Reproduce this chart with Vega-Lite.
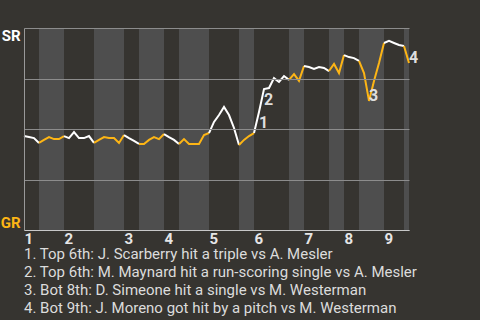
{
  "$schema": "https://vega.github.io/schema/vega-lite/v6.json",
  "width": 385,
  "height": 202,
  "autosize": {"type": "none"},
  "padding": {"left": 24, "top": 28, "right": 71, "bottom": 90},
  "background": "#363430",
  "config": {"view": {"stroke": null}, "font": "Roboto"},
  "title": {
    "text": [
      "1. Top 6th: J. Scarberry hit a triple vs A. Mesler",
      "2. Top 6th: M. Maynard hit a run-scoring single vs A. Mesler",
      "3. Bot 8th: D. Simeone hit a single vs M. Westerman",
      "4. Bot 9th: J. Moreno got hit by a pitch vs M. Westerman"
    ],
    "orient": "bottom",
    "anchor": "start",
    "frame": "group",
    "font": "Roboto",
    "fontSize": 15,
    "fontWeight": "normal",
    "color": "#dcdcdc",
    "lineHeight": 18,
    "offset": 1
  },
  "datasets": {
    "wp": [
      {"h": "1T", "bat": "SR", "k": 0, "wp": 0.465},
      {"h": "1T", "bat": "SR", "k": 1, "wp": 0.46},
      {"h": "1T", "bat": "SR", "k": 2, "wp": 0.455},
      {"h": "1T", "bat": "SR", "k": 3, "wp": 0.431},
      {"h": "1B", "bat": "GR", "k": 3, "wp": 0.431},
      {"h": "1B", "bat": "GR", "k": 4, "wp": 0.446},
      {"h": "1B", "bat": "GR", "k": 5, "wp": 0.46},
      {"h": "1B", "bat": "GR", "k": 6, "wp": 0.45},
      {"h": "1B", "bat": "GR", "k": 7, "wp": 0.45},
      {"h": "1B", "bat": "GR", "k": 8, "wp": 0.465},
      {"h": "2T", "bat": "SR", "k": 8, "wp": 0.465},
      {"h": "2T", "bat": "SR", "k": 9, "wp": 0.455},
      {"h": "2T", "bat": "SR", "k": 10, "wp": 0.485},
      {"h": "2T", "bat": "SR", "k": 11, "wp": 0.455},
      {"h": "2T", "bat": "SR", "k": 12, "wp": 0.455},
      {"h": "2T", "bat": "SR", "k": 13, "wp": 0.465},
      {"h": "2T", "bat": "SR", "k": 14, "wp": 0.431},
      {"h": "2B", "bat": "GR", "k": 14, "wp": 0.431},
      {"h": "2B", "bat": "GR", "k": 15, "wp": 0.446},
      {"h": "2B", "bat": "GR", "k": 16, "wp": 0.46},
      {"h": "2B", "bat": "GR", "k": 17, "wp": 0.455},
      {"h": "2B", "bat": "GR", "k": 18, "wp": 0.455},
      {"h": "2B", "bat": "GR", "k": 19, "wp": 0.431},
      {"h": "2B", "bat": "GR", "k": 20, "wp": 0.47},
      {"h": "3T", "bat": "SR", "k": 20, "wp": 0.47},
      {"h": "3T", "bat": "SR", "k": 21, "wp": 0.455},
      {"h": "3T", "bat": "SR", "k": 22, "wp": 0.441},
      {"h": "3T", "bat": "SR", "k": 23, "wp": 0.426},
      {"h": "3B", "bat": "GR", "k": 23, "wp": 0.426},
      {"h": "3B", "bat": "GR", "k": 24, "wp": 0.426},
      {"h": "3B", "bat": "GR", "k": 25, "wp": 0.446},
      {"h": "3B", "bat": "GR", "k": 26, "wp": 0.46},
      {"h": "3B", "bat": "GR", "k": 27, "wp": 0.45},
      {"h": "3B", "bat": "GR", "k": 28, "wp": 0.475},
      {"h": "4T", "bat": "SR", "k": 28, "wp": 0.475},
      {"h": "4T", "bat": "SR", "k": 29, "wp": 0.46},
      {"h": "4T", "bat": "SR", "k": 30, "wp": 0.446},
      {"h": "4T", "bat": "SR", "k": 31, "wp": 0.426},
      {"h": "4B", "bat": "GR", "k": 31, "wp": 0.426},
      {"h": "4B", "bat": "GR", "k": 32, "wp": 0.45},
      {"h": "4B", "bat": "GR", "k": 33, "wp": 0.426},
      {"h": "4B", "bat": "GR", "k": 34, "wp": 0.426},
      {"h": "4B", "bat": "GR", "k": 35, "wp": 0.426},
      {"h": "4B", "bat": "GR", "k": 36, "wp": 0.47},
      {"h": "4B", "bat": "GR", "k": 37, "wp": 0.48},
      {"h": "5T", "bat": "SR", "k": 37, "wp": 0.48},
      {"h": "5T", "bat": "SR", "k": 38, "wp": 0.535},
      {"h": "5T", "bat": "SR", "k": 39, "wp": 0.569},
      {"h": "5T", "bat": "SR", "k": 40, "wp": 0.609},
      {"h": "5T", "bat": "SR", "k": 41, "wp": 0.569},
      {"h": "5T", "bat": "SR", "k": 42, "wp": 0.505},
      {"h": "5T", "bat": "SR", "k": 43, "wp": 0.421},
      {"h": "5B", "bat": "GR", "k": 43, "wp": 0.421},
      {"h": "5B", "bat": "GR", "k": 44, "wp": 0.446},
      {"h": "5B", "bat": "GR", "k": 45, "wp": 0.465},
      {"h": "5B", "bat": "GR", "k": 46, "wp": 0.48},
      {"h": "6T", "bat": "SR", "k": 46, "wp": 0.48},
      {"h": "6T", "bat": "SR", "k": 47, "wp": 0.584},
      {"h": "6T", "bat": "SR", "k": 48, "wp": 0.698},
      {"h": "6T", "bat": "SR", "k": 49, "wp": 0.703},
      {"h": "6T", "bat": "SR", "k": 50, "wp": 0.752},
      {"h": "6T", "bat": "SR", "k": 51, "wp": 0.733},
      {"h": "6T", "bat": "SR", "k": 52, "wp": 0.762},
      {"h": "6T", "bat": "SR", "k": 53, "wp": 0.743},
      {"h": "6B", "bat": "GR", "k": 53, "wp": 0.743},
      {"h": "6B", "bat": "GR", "k": 54, "wp": 0.772},
      {"h": "6B", "bat": "GR", "k": 55, "wp": 0.738},
      {"h": "6B", "bat": "GR", "k": 56, "wp": 0.812},
      {"h": "7T", "bat": "SR", "k": 56, "wp": 0.812},
      {"h": "7T", "bat": "SR", "k": 57, "wp": 0.807},
      {"h": "7T", "bat": "SR", "k": 58, "wp": 0.797},
      {"h": "7T", "bat": "SR", "k": 59, "wp": 0.807},
      {"h": "7T", "bat": "SR", "k": 60, "wp": 0.802},
      {"h": "7T", "bat": "SR", "k": 61, "wp": 0.787},
      {"h": "7B", "bat": "GR", "k": 61, "wp": 0.787},
      {"h": "7B", "bat": "GR", "k": 62, "wp": 0.822},
      {"h": "7B", "bat": "GR", "k": 63, "wp": 0.777},
      {"h": "7B", "bat": "GR", "k": 64, "wp": 0.866},
      {"h": "8T", "bat": "SR", "k": 64, "wp": 0.866},
      {"h": "8T", "bat": "SR", "k": 65, "wp": 0.856},
      {"h": "8T", "bat": "SR", "k": 66, "wp": 0.851},
      {"h": "8T", "bat": "SR", "k": 67, "wp": 0.837},
      {"h": "8B", "bat": "GR", "k": 67, "wp": 0.837},
      {"h": "8B", "bat": "GR", "k": 68, "wp": 0.777},
      {"h": "8B", "bat": "GR", "k": 69, "wp": 0.639},
      {"h": "8B", "bat": "GR", "k": 70, "wp": 0.738},
      {"h": "8B", "bat": "GR", "k": 71, "wp": 0.827},
      {"h": "8B", "bat": "GR", "k": 72, "wp": 0.926},
      {"h": "9T", "bat": "SR", "k": 72, "wp": 0.926},
      {"h": "9T", "bat": "SR", "k": 73, "wp": 0.936},
      {"h": "9T", "bat": "SR", "k": 74, "wp": 0.926},
      {"h": "9T", "bat": "SR", "k": 75, "wp": 0.916},
      {"h": "9T", "bat": "SR", "k": 76, "wp": 0.911},
      {"h": "9B", "bat": "GR", "k": 76, "wp": 0.911},
      {"h": "9B", "bat": "GR", "k": 77, "wp": 0.827}
    ],
    "events": [
      {"n": "1", "bat": "SR", "k": 47, "wp": 0.584, "desc": "Top 6th: J. Scarberry hit a triple vs A. Mesler"},
      {"n": "2", "bat": "SR", "k": 48, "wp": 0.698, "desc": "Top 6th: M. Maynard hit a run-scoring single vs A. Mesler"},
      {"n": "3", "bat": "GR", "k": 69, "wp": 0.639, "desc": "Bot 8th: D. Simeone hit a single vs M. Westerman"},
      {"n": "4", "bat": "GR", "k": 77, "wp": 0.827, "desc": "Bot 9th: J. Moreno got hit by a pitch vs M. Westerman"}
    ]
  },
  "layer": [
    {
      "data": {"name": "wp"},
      "transform": [
        {"aggregate": [{"op": "min", "field": "k", "as": "k0"}, {"op": "max", "field": "k", "as": "k1"}], "groupby": ["h", "bat"]},
        {"filter": "datum.bat == 'GR'"}
      ],
      "mark": {"type": "rect", "color": "#4e4e4e"},
      "encoding": {
        "x": {
          "field": "k0", "type": "quantitative",
          "scale": {"domain": [0, 77], "nice": false, "zero": false},
          "axis": {
            "values": [0, 8, 20, 28, 37, 46, 56, 64, 72],
            "labelExpr": "'' + (indexof([0, 8, 20, 28, 37, 46, 56, 64, 72], datum.value) + 1)",
            "labelAlign": "left",
            "labelBaseline": "top",
            "labelFlush": false,
            "labelOverlap": false,
            "ticks": false,
            "tickSize": 0,
            "labelPadding": 1,
            "labelFont": "Roboto",
            "labelFontSize": 15,
            "labelFontWeight": "bold",
            "labelColor": "#e6e6e6",
            "domainColor": "#c8c8c8",
            "domainWidth": 1,
            "grid": false,
            "title": null,
            "zindex": 1
          }
        },
        "x2": {"field": "k1"}
      }
    },
    {
      "data": {"name": "wp"},
      "mark": {"type": "line", "strokeWidth": 2, "strokeJoin": "miter"},
      "encoding": {
        "x": {"field": "k", "type": "quantitative"},
        "y": {
          "field": "wp", "type": "quantitative",
          "scale": {"domain": [0, 1], "nice": false, "zero": false},
          "axis": {
            "values": [0, 0.25, 0.5, 0.75, 1],
            "labelExpr": "datum.value == 1 ? 'SR' : datum.value == 0 ? 'GR' : ''",
            "labelOverlap": false,
            "labelFlush": false,
            "ticks": false,
            "tickSize": 0,
            "labelPadding": 4,
            "labelFont": "Roboto",
            "labelFontSize": 15,
            "labelFontWeight": "bold",
            "labelColor": {"condition": {"test": "datum.value == 0", "value": "#fdb515"}, "value": "#ffffff"},
            "labelBaseline": {"condition": {"test": "datum.value == 1", "value": "top"}, "value": "bottom"},
            "grid": true,
            "gridColor": "#8c8c8c",
            "gridWidth": 1,
            "domainColor": "#999999",
            "title": null,
            "zindex": 1
          }
        },
        "color": {"field": "bat", "type": "nominal", "scale": {"domain": ["SR", "GR"], "range": ["#ffffff", "#fdb515"]}, "legend": null},
        "detail": {"field": "h"},
        "order": {"field": "k", "type": "quantitative"}
      }
    },
    {
      "data": {"name": "events"},
      "transform": [{"filter": "datum.bat == 'SR'"}],
      "mark": {"type": "text", "align": "left", "baseline": "middle", "dx": 0, "dy": 11, "font": "Roboto", "fontSize": 16, "fontWeight": "bold", "color": "#dedede"},
      "encoding": {
        "x": {"field": "k", "type": "quantitative"},
        "y": {"field": "wp", "type": "quantitative"},
        "text": {"field": "n"}
      }
    },
    {
      "data": {"name": "events"},
      "transform": [{"filter": "datum.bat == 'GR'"}],
      "mark": {"type": "text", "align": "left", "baseline": "middle", "dx": 0, "dy": -5, "font": "Roboto", "fontSize": 16, "fontWeight": "bold", "color": "#dedede"},
      "encoding": {
        "x": {"field": "k", "type": "quantitative"},
        "y": {"field": "wp", "type": "quantitative"},
        "text": {"field": "n"}
      }
    }
  ]
}
